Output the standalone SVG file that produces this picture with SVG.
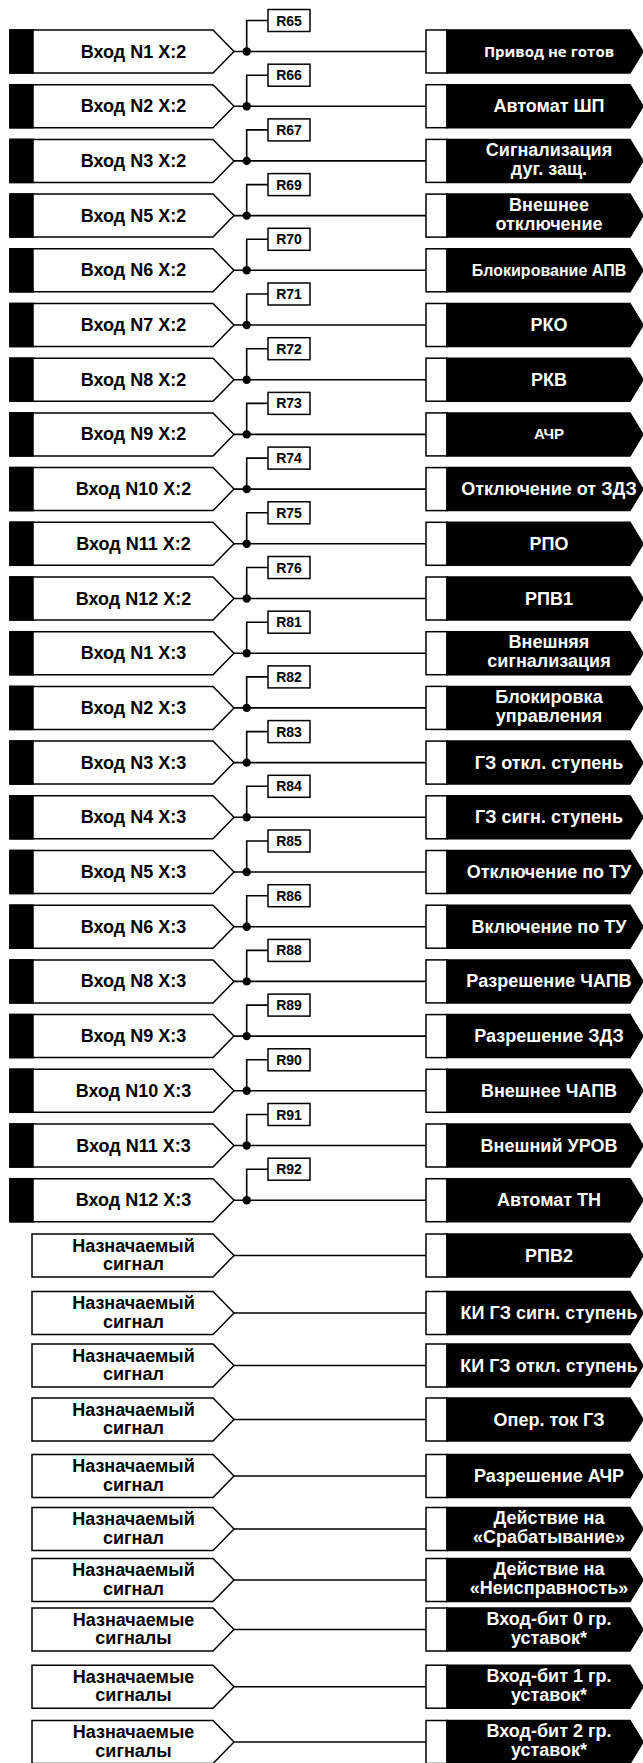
<svg xmlns="http://www.w3.org/2000/svg" xmlns:xlink="http://www.w3.org/1999/xlink" width="643" height="1763" viewBox="0 0 643 1763">
<style>
.bx{fill:#fff;stroke:#000;stroke-width:1.5}
.blk{fill:#000;stroke:#000;stroke-width:1.5}
.cn{fill:none;stroke:#000;stroke-width:1.6}
.dot{fill:#000}
text{font-family:"Liberation Sans",Arial,sans-serif;font-weight:bold;text-anchor:middle}
.lt{font-size:18px;fill:#000}
.rt{font-size:18px;fill:#fff}
.rs{font-size:16px;fill:#fff}
.ra{font-size:15px;fill:#fff}
.os{font-family:"Open Sans","Liberation Sans",sans-serif;font-size:15px;fill:#fff}
.rl{font-size:14px;fill:#000}
</style>
<defs>
<g id="inT"><polygon class="bx" points="10,-21.5 213,-21.5 234,0 213,21.5 10,21.5"/><rect class="blk" x="10" y="-21.5" width="23" height="43"/></g>
<g id="inA"><polygon class="bx" points="32,-21.5 213,-21.5 234,0 213,21.5 32,21.5"/></g>
<g id="out"><rect class="bx" x="426" y="-21.5" width="21" height="43"/><polygon class="blk" points="447,-21.5 630,-21.5 643,0 630,21.5 447,21.5"/></g>
<g id="rb"><rect class="bx" x="268" y="-42" width="42" height="22"/></g>
</defs>

<g id="connectors">
<g transform="translate(0,51.5)"><path class="cn" d="M234,0H426M246.7,0V-31H268"/><circle class="dot" cx="246.7" cy="0" r="4.2"/></g>
<g transform="translate(0,106.2)"><path class="cn" d="M234,0H426M246.7,0V-31H268"/><circle class="dot" cx="246.7" cy="0" r="4.2"/></g>
<g transform="translate(0,160.9)"><path class="cn" d="M234,0H426M246.7,0V-31H268"/><circle class="dot" cx="246.7" cy="0" r="4.2"/></g>
<g transform="translate(0,215.6)"><path class="cn" d="M234,0H426M246.7,0V-31H268"/><circle class="dot" cx="246.7" cy="0" r="4.2"/></g>
<g transform="translate(0,270.3)"><path class="cn" d="M234,0H426M246.7,0V-31H268"/><circle class="dot" cx="246.7" cy="0" r="4.2"/></g>
<g transform="translate(0,325)"><path class="cn" d="M234,0H426M246.7,0V-31H268"/><circle class="dot" cx="246.7" cy="0" r="4.2"/></g>
<g transform="translate(0,379.7)"><path class="cn" d="M234,0H426M246.7,0V-31H268"/><circle class="dot" cx="246.7" cy="0" r="4.2"/></g>
<g transform="translate(0,434.4)"><path class="cn" d="M234,0H426M246.7,0V-31H268"/><circle class="dot" cx="246.7" cy="0" r="4.2"/></g>
<g transform="translate(0,489.1)"><path class="cn" d="M234,0H426M246.7,0V-31H268"/><circle class="dot" cx="246.7" cy="0" r="4.2"/></g>
<g transform="translate(0,543.8)"><path class="cn" d="M234,0H426M246.7,0V-31H268"/><circle class="dot" cx="246.7" cy="0" r="4.2"/></g>
<g transform="translate(0,598.5)"><path class="cn" d="M234,0H426M246.7,0V-31H268"/><circle class="dot" cx="246.7" cy="0" r="4.2"/></g>
<g transform="translate(0,653.2)"><path class="cn" d="M234,0H426M246.7,0V-31H268"/><circle class="dot" cx="246.7" cy="0" r="4.2"/></g>
<g transform="translate(0,707.9)"><path class="cn" d="M234,0H426M246.7,0V-31H268"/><circle class="dot" cx="246.7" cy="0" r="4.2"/></g>
<g transform="translate(0,762.6)"><path class="cn" d="M234,0H426M246.7,0V-31H268"/><circle class="dot" cx="246.7" cy="0" r="4.2"/></g>
<g transform="translate(0,817.3)"><path class="cn" d="M234,0H426M246.7,0V-31H268"/><circle class="dot" cx="246.7" cy="0" r="4.2"/></g>
<g transform="translate(0,872)"><path class="cn" d="M234,0H426M246.7,0V-31H268"/><circle class="dot" cx="246.7" cy="0" r="4.2"/></g>
<g transform="translate(0,926.7)"><path class="cn" d="M234,0H426M246.7,0V-31H268"/><circle class="dot" cx="246.7" cy="0" r="4.2"/></g>
<g transform="translate(0,981.4)"><path class="cn" d="M234,0H426M246.7,0V-31H268"/><circle class="dot" cx="246.7" cy="0" r="4.2"/></g>
<g transform="translate(0,1036.1)"><path class="cn" d="M234,0H426M246.7,0V-31H268"/><circle class="dot" cx="246.7" cy="0" r="4.2"/></g>
<g transform="translate(0,1090.8)"><path class="cn" d="M234,0H426M246.7,0V-31H268"/><circle class="dot" cx="246.7" cy="0" r="4.2"/></g>
<g transform="translate(0,1145.5)"><path class="cn" d="M234,0H426M246.7,0V-31H268"/><circle class="dot" cx="246.7" cy="0" r="4.2"/></g>
<g transform="translate(0,1200.2)"><path class="cn" d="M234,0H426M246.7,0V-31H268"/><circle class="dot" cx="246.7" cy="0" r="4.2"/></g>
<path class="cn" d="M234,1255.5H426M234,1313H426M234,1365.5H426M234,1419.5H426M234,1476H426M234,1529H426M234,1580H426M234,1629.5H426M234,1686.7H426M234,1742H426"/>
</g>

<g id="in01" transform="translate(0,51.5)"><use href="#inT"/><text class="lt" x="133.5" y="6">Вход N1 X:2</text></g>
<g id="in02" transform="translate(0,106.2)"><use href="#inT"/><text class="lt" x="133.5" y="6">Вход N2 X:2</text></g>
<g id="in03" transform="translate(0,160.9)"><use href="#inT"/><text class="lt" x="133.5" y="6">Вход N3 X:2</text></g>
<g id="in04" transform="translate(0,215.6)"><use href="#inT"/><text class="lt" x="133.5" y="6">Вход N5 X:2</text></g>
<g id="in05" transform="translate(0,270.3)"><use href="#inT"/><text class="lt" x="133.5" y="6">Вход N6 X:2</text></g>
<g id="in06" transform="translate(0,325)"><use href="#inT"/><text class="lt" x="133.5" y="6">Вход N7 X:2</text></g>
<g id="in07" transform="translate(0,379.7)"><use href="#inT"/><text class="lt" x="133.5" y="6">Вход N8 X:2</text></g>
<g id="in08" transform="translate(0,434.4)"><use href="#inT"/><text class="lt" x="133.5" y="6">Вход N9 X:2</text></g>
<g id="in09" transform="translate(0,489.1)"><use href="#inT"/><text class="lt" x="133.5" y="6">Вход N10 X:2</text></g>
<g id="in10" transform="translate(0,543.8)"><use href="#inT"/><text class="lt" x="133.5" y="6">Вход N11 X:2</text></g>
<g id="in11" transform="translate(0,598.5)"><use href="#inT"/><text class="lt" x="133.5" y="6">Вход N12 X:2</text></g>
<g id="in12" transform="translate(0,653.2)"><use href="#inT"/><text class="lt" x="133.5" y="6">Вход N1 X:3</text></g>
<g id="in13" transform="translate(0,707.9)"><use href="#inT"/><text class="lt" x="133.5" y="6">Вход N2 X:3</text></g>
<g id="in14" transform="translate(0,762.6)"><use href="#inT"/><text class="lt" x="133.5" y="6">Вход N3 X:3</text></g>
<g id="in15" transform="translate(0,817.3)"><use href="#inT"/><text class="lt" x="133.5" y="6">Вход N4 X:3</text></g>
<g id="in16" transform="translate(0,872)"><use href="#inT"/><text class="lt" x="133.5" y="6">Вход N5 X:3</text></g>
<g id="in17" transform="translate(0,926.7)"><use href="#inT"/><text class="lt" x="133.5" y="6">Вход N6 X:3</text></g>
<g id="in18" transform="translate(0,981.4)"><use href="#inT"/><text class="lt" x="133.5" y="6">Вход N8 X:3</text></g>
<g id="in19" transform="translate(0,1036.1)"><use href="#inT"/><text class="lt" x="133.5" y="6">Вход N9 X:3</text></g>
<g id="in20" transform="translate(0,1090.8)"><use href="#inT"/><text class="lt" x="133.5" y="6">Вход N10 X:3</text></g>
<g id="in21" transform="translate(0,1145.5)"><use href="#inT"/><text class="lt" x="133.5" y="6">Вход N11 X:3</text></g>
<g id="in22" transform="translate(0,1200.2)"><use href="#inT"/><text class="lt" x="133.5" y="6">Вход N12 X:3</text></g>
<g id="in23" transform="translate(0,1255.5)"><use href="#inA"/><text class="lt" x="133.5" y="-4">Назначаемый</text><text class="lt" x="133.5" y="14.5">сигнал</text></g>
<g id="in24" transform="translate(0,1313)"><use href="#inA"/><text class="lt" x="133.5" y="-4">Назначаемый</text><text class="lt" x="133.5" y="14.5">сигнал</text></g>
<g id="in25" transform="translate(0,1365.5)"><use href="#inA"/><text class="lt" x="133.5" y="-4">Назначаемый</text><text class="lt" x="133.5" y="14.5">сигнал</text></g>
<g id="in26" transform="translate(0,1419.5)"><use href="#inA"/><text class="lt" x="133.5" y="-4">Назначаемый</text><text class="lt" x="133.5" y="14.5">сигнал</text></g>
<g id="in27" transform="translate(0,1476)"><use href="#inA"/><text class="lt" x="133.5" y="-4">Назначаемый</text><text class="lt" x="133.5" y="14.5">сигнал</text></g>
<g id="in28" transform="translate(0,1529)"><use href="#inA"/><text class="lt" x="133.5" y="-4">Назначаемый</text><text class="lt" x="133.5" y="14.5">сигнал</text></g>
<g id="in29" transform="translate(0,1580)"><use href="#inA"/><text class="lt" x="133.5" y="-4">Назначаемый</text><text class="lt" x="133.5" y="14.5">сигнал</text></g>
<g id="in30" transform="translate(0,1629.5)"><use href="#inA"/><text class="lt" x="133.5" y="-4">Назначаемые</text><text class="lt" x="133.5" y="14.5">сигналы</text></g>
<g id="in31" transform="translate(0,1686.7)"><use href="#inA"/><text class="lt" x="133.5" y="-4">Назначаемые</text><text class="lt" x="133.5" y="14.5">сигналы</text></g>
<g id="in32" transform="translate(0,1742)"><use href="#inA"/><text class="lt" x="133.5" y="-4">Назначаемые</text><text class="lt" x="133.5" y="14.5">сигналы</text></g>

<g id="R65" transform="translate(0,51.5)"><use href="#rb"/><text class="rl" x="289" y="-26">R65</text></g>
<g id="R66" transform="translate(0,106.2)"><use href="#rb"/><text class="rl" x="289" y="-26">R66</text></g>
<g id="R67" transform="translate(0,160.9)"><use href="#rb"/><text class="rl" x="289" y="-26">R67</text></g>
<g id="R69" transform="translate(0,215.6)"><use href="#rb"/><text class="rl" x="289" y="-26">R69</text></g>
<g id="R70" transform="translate(0,270.3)"><use href="#rb"/><text class="rl" x="289" y="-26">R70</text></g>
<g id="R71" transform="translate(0,325)"><use href="#rb"/><text class="rl" x="289" y="-26">R71</text></g>
<g id="R72" transform="translate(0,379.7)"><use href="#rb"/><text class="rl" x="289" y="-26">R72</text></g>
<g id="R73" transform="translate(0,434.4)"><use href="#rb"/><text class="rl" x="289" y="-26">R73</text></g>
<g id="R74" transform="translate(0,489.1)"><use href="#rb"/><text class="rl" x="289" y="-26">R74</text></g>
<g id="R75" transform="translate(0,543.8)"><use href="#rb"/><text class="rl" x="289" y="-26">R75</text></g>
<g id="R76" transform="translate(0,598.5)"><use href="#rb"/><text class="rl" x="289" y="-26">R76</text></g>
<g id="R81" transform="translate(0,653.2)"><use href="#rb"/><text class="rl" x="289" y="-26">R81</text></g>
<g id="R82" transform="translate(0,707.9)"><use href="#rb"/><text class="rl" x="289" y="-26">R82</text></g>
<g id="R83" transform="translate(0,762.6)"><use href="#rb"/><text class="rl" x="289" y="-26">R83</text></g>
<g id="R84" transform="translate(0,817.3)"><use href="#rb"/><text class="rl" x="289" y="-26">R84</text></g>
<g id="R85" transform="translate(0,872)"><use href="#rb"/><text class="rl" x="289" y="-26">R85</text></g>
<g id="R86" transform="translate(0,926.7)"><use href="#rb"/><text class="rl" x="289" y="-26">R86</text></g>
<g id="R88" transform="translate(0,981.4)"><use href="#rb"/><text class="rl" x="289" y="-26">R88</text></g>
<g id="R89" transform="translate(0,1036.1)"><use href="#rb"/><text class="rl" x="289" y="-26">R89</text></g>
<g id="R90" transform="translate(0,1090.8)"><use href="#rb"/><text class="rl" x="289" y="-26">R90</text></g>
<g id="R91" transform="translate(0,1145.5)"><use href="#rb"/><text class="rl" x="289" y="-26">R91</text></g>
<g id="R92" transform="translate(0,1200.2)"><use href="#rb"/><text class="rl" x="289" y="-26">R92</text></g>

<g id="out01" transform="translate(0,51.5)"><use href="#out"/><text class="os" x="549" y="5.5">Привод не готов</text></g>
<g id="out02" transform="translate(0,106.2)"><use href="#out"/><text class="rt" x="549" y="6">Автомат ШП</text></g>
<g id="out03" transform="translate(0,160.9)"><use href="#out"/><text class="rt" x="549" y="-5">Сигнализация</text><text class="rt" x="549" y="14">дуг. защ.</text></g>
<g id="out04" transform="translate(0,215.6)"><use href="#out"/><text class="rt" x="549" y="-5">Внешнее</text><text class="rt" x="549" y="14">отключение</text></g>
<g id="out05" transform="translate(0,270.3)"><use href="#out"/><text class="rs" x="549" y="5.5">Блокирование АПВ</text></g>
<g id="out06" transform="translate(0,325)"><use href="#out"/><text class="rt" x="549" y="6">РКО</text></g>
<g id="out07" transform="translate(0,379.7)"><use href="#out"/><text class="rt" x="549" y="6">РКВ</text></g>
<g id="out08" transform="translate(0,434.4)"><use href="#out"/><text class="ra" x="549" y="5">АЧР</text></g>
<g id="out09" transform="translate(0,489.1)"><use href="#out"/><text class="rt" x="549" y="6">Отключение от ЗДЗ</text></g>
<g id="out10" transform="translate(0,543.8)"><use href="#out"/><text class="rt" x="549" y="6">РПО</text></g>
<g id="out11" transform="translate(0,598.5)"><use href="#out"/><text class="rt" x="549" y="6">РПВ1</text></g>
<g id="out12" transform="translate(0,653.2)"><use href="#out"/><text class="rt" x="549" y="-5">Внешняя</text><text class="rt" x="549" y="14">сигнализация</text></g>
<g id="out13" transform="translate(0,707.9)"><use href="#out"/><text class="rt" x="549" y="-5">Блокировка</text><text class="rt" x="549" y="14">управления</text></g>
<g id="out14" transform="translate(0,762.6)"><use href="#out"/><text class="rt" x="549" y="6">ГЗ откл. ступень</text></g>
<g id="out15" transform="translate(0,817.3)"><use href="#out"/><text class="rt" x="549" y="6">ГЗ сигн. ступень</text></g>
<g id="out16" transform="translate(0,872)"><use href="#out"/><text class="rt" x="549" y="6">Отключение по ТУ</text></g>
<g id="out17" transform="translate(0,926.7)"><use href="#out"/><text class="rt" x="549" y="6">Включение по ТУ</text></g>
<g id="out18" transform="translate(0,981.4)"><use href="#out"/><text class="rt" x="549" y="6">Разрешение ЧАПВ</text></g>
<g id="out19" transform="translate(0,1036.1)"><use href="#out"/><text class="rt" x="549" y="6">Разрешение ЗДЗ</text></g>
<g id="out20" transform="translate(0,1090.8)"><use href="#out"/><text class="rt" x="549" y="6">Внешнее ЧАПВ</text></g>
<g id="out21" transform="translate(0,1145.5)"><use href="#out"/><text class="rt" x="549" y="6">Внешний УРОВ</text></g>
<g id="out22" transform="translate(0,1200.2)"><use href="#out"/><text class="rt" x="549" y="6">Автомат ТН</text></g>
<g id="out23" transform="translate(0,1255.5)"><use href="#out"/><text class="rt" x="549" y="6">РПВ2</text></g>
<g id="out24" transform="translate(0,1313)"><use href="#out"/><text class="rt" x="549" y="6">КИ ГЗ сигн. ступень</text></g>
<g id="out25" transform="translate(0,1365.5)"><use href="#out"/><text class="rt" x="549" y="6">КИ ГЗ откл. ступень</text></g>
<g id="out26" transform="translate(0,1419.5)"><use href="#out"/><text class="rt" x="549" y="6">Опер. ток ГЗ</text></g>
<g id="out27" transform="translate(0,1476)"><use href="#out"/><text class="rt" x="549" y="6">Разрешение АЧР</text></g>
<g id="out28" transform="translate(0,1529)"><use href="#out"/><text class="rt" x="549" y="-5">Действие на</text><text class="rt" x="549" y="14">«Срабатывание»</text></g>
<g id="out29" transform="translate(0,1580)"><use href="#out"/><text class="rt" x="549" y="-5">Действие на</text><text class="rt" x="549" y="14">«Неисправность»</text></g>
<g id="out30" transform="translate(0,1629.5)"><use href="#out"/><text class="rt" x="549" y="-5">Вход-бит 0 гр.</text><text class="rt" x="549" y="14">уставок*</text></g>
<g id="out31" transform="translate(0,1686.7)"><use href="#out"/><text class="rt" x="549" y="-5">Вход-бит 1 гр.</text><text class="rt" x="549" y="14">уставок*</text></g>
<g id="out32" transform="translate(0,1742)"><use href="#out"/><text class="rt" x="549" y="-5">Вход-бит 2 гр.</text><text class="rt" x="549" y="14">уставок*</text></g>
</svg>
